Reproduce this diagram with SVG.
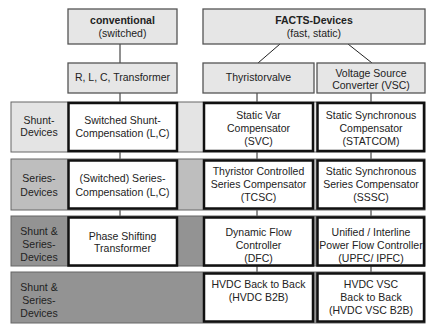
<svg xmlns="http://www.w3.org/2000/svg" width="427" height="324" viewBox="0 0 427 324">
  <style>
    text { font-family: "Liberation Sans", Arial, sans-serif; font-size: 10.5px; fill: #222; text-anchor: middle; }
    .b { font-weight: bold; }
    .head { fill: #e6e6e6; stroke: #555; stroke-width: 1.3; }
    .row { stroke: #666; stroke-width: 1; }
    .r1 { fill: #e4e4e4; }
    .r2 { fill: #bebebe; }
    .r3 { fill: #939393; }
    .dev { fill: #fff; stroke: #111; stroke-width: 2.5; }
    .line { stroke: #222; stroke-width: 1; fill: none; }
  </style>
  <rect width="427" height="324" fill="#fff"/>

  <!-- connectors -->
  <g id="connectors">
    <line class="line" x1="120" y1="44" x2="120" y2="217"/>
    <line class="line" x1="280" y1="44" x2="258" y2="63"/>
    <line class="line" x1="348" y1="44" x2="372" y2="63"/>
    <line class="line" x1="257" y1="93" x2="257" y2="272"/>
    <line class="line" x1="371" y1="93" x2="371" y2="272"/>
  </g>

  <!-- header nodes -->
  <g id="conventional">
    <rect class="head" x="68" y="9" width="109" height="35"/>
    <text class="b" x="122.5" y="24">conventional</text>
    <text x="122.5" y="37">(switched)</text>
  </g>
  <g id="facts">
    <rect class="head" x="203" y="9" width="222" height="35"/>
    <text class="b" x="314" y="24">FACTS-Devices</text>
    <text x="314" y="37">(fast, static)</text>
  </g>
  <g id="rlc">
    <rect class="head" x="68" y="63" width="109" height="30"/>
    <text x="122.5" y="81">R, L, C, Transformer</text>
  </g>
  <g id="thyristorvalve">
    <rect class="head" x="203" y="63" width="111" height="30"/>
    <text x="258.5" y="81">Thyristorvalve</text>
  </g>
  <g id="vsc">
    <rect class="head" x="317" y="63" width="108" height="30"/>
    <text x="371" y="77">Voltage Source</text>
    <text x="371" y="89">Converter (VSC)</text>
  </g>

  <!-- row: shunt devices -->
  <g id="row-shunt">
    <rect class="row r1" x="11" y="102" width="414" height="50"/>
    <text x="39" y="124">Shunt-</text>
    <text x="39" y="136">Devices</text>
  </g>
  <g id="switched-shunt">
    <rect class="dev" x="68.5" y="103" width="108.5" height="48"/>
    <text x="122.5" y="124">Switched Shunt-</text>
    <text x="122.5" y="137">Compensation (L,C)</text>
  </g>
  <g id="svc">
    <rect class="dev" x="204" y="103" width="109" height="48"/>
    <text x="258.5" y="119">Static Var</text>
    <text x="258.5" y="132">Compensator</text>
    <text x="258.5" y="145">(SVC)</text>
  </g>
  <g id="statcom">
    <rect class="dev" x="317.5" y="103" width="106.5" height="48"/>
    <text x="371" y="119">Static Synchronous</text>
    <text x="371" y="132">Compensator</text>
    <text x="371" y="145">(STATCOM)</text>
  </g>

  <!-- row: series devices -->
  <g id="row-series">
    <rect class="row r2" x="11" y="159" width="414" height="51"/>
    <text x="39" y="182">Series-</text>
    <text x="39" y="196">Devices</text>
  </g>
  <g id="switched-series">
    <rect class="dev" x="68.5" y="160.5" width="108.5" height="48"/>
    <text x="122.5" y="182">(Switched) Series-</text>
    <text x="122.5" y="196">Compensation (L,C)</text>
  </g>
  <g id="tcsc">
    <rect class="dev" x="204" y="160.5" width="109" height="48"/>
    <text x="258.5" y="175">Thyristor Controlled</text>
    <text x="258.5" y="188">Series Compensator</text>
    <text x="258.5" y="201">(TCSC)</text>
  </g>
  <g id="sssc">
    <rect class="dev" x="317.5" y="160.5" width="106.5" height="48"/>
    <text x="371" y="175">Static Synchronous</text>
    <text x="371" y="188">Series Compensator</text>
    <text x="371" y="201">(SSSC)</text>
  </g>

  <!-- row: shunt & series devices -->
  <g id="row-shunt-series">
    <rect class="row r3" x="11" y="216" width="414" height="50"/>
    <text x="39" y="235">Shunt &amp;</text>
    <text x="39" y="248">Series-</text>
    <text x="39" y="261">Devices</text>
  </g>
  <g id="pst">
    <rect class="dev" x="68.5" y="217.5" width="108.5" height="48"/>
    <text x="122.5" y="240">Phase Shifting</text>
    <text x="122.5" y="252">Transformer</text>
  </g>
  <g id="dfc">
    <rect class="dev" x="204" y="217.5" width="109" height="48"/>
    <text x="258.5" y="236">Dynamic Flow</text>
    <text x="258.5" y="249">Controller</text>
    <text x="258.5" y="262">(DFC)</text>
  </g>
  <g id="upfc">
    <rect class="dev" x="317.5" y="217.5" width="106.5" height="48"/>
    <text x="371" y="236">Unified / Interline</text>
    <text x="371" y="249">Power Flow Controller</text>
    <text x="371" y="262">(UPFC/ IPFC)</text>
  </g>

  <!-- row: shunt & series devices (HVDC) -->
  <g id="row-hvdc">
    <rect class="row r3" x="11" y="272" width="414" height="51"/>
    <text x="39" y="291">Shunt &amp;</text>
    <text x="39" y="304">Series-</text>
    <text x="39" y="317">Devices</text>
  </g>
  <g id="hvdc-b2b">
    <rect class="dev" x="204" y="273.5" width="109" height="48"/>
    <text x="258.5" y="288">HVDC Back to Back</text>
    <text x="258.5" y="301">(HVDC B2B)</text>
  </g>
  <g id="hvdc-vsc-b2b">
    <rect class="dev" x="317.5" y="273.5" width="106.5" height="48"/>
    <text x="371" y="288">HVDC VSC</text>
    <text x="371" y="301">Back to Back</text>
    <text x="371" y="314">(HVDC VSC B2B)</text>
  </g>
</svg>
